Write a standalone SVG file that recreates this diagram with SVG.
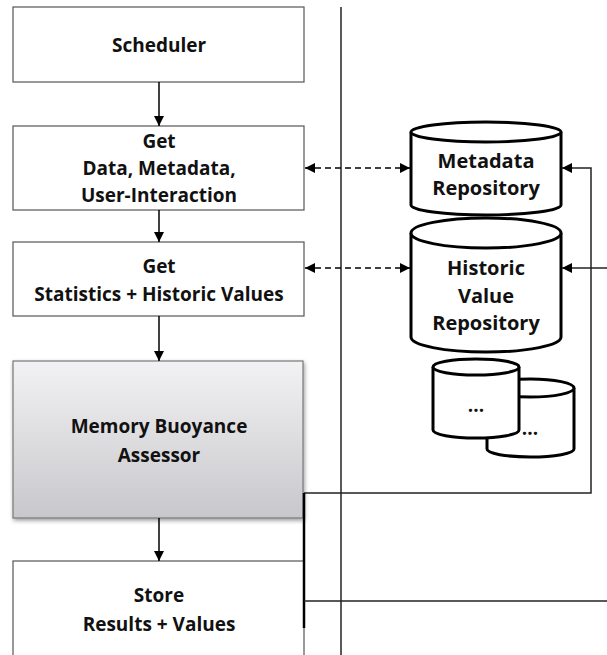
<svg xmlns="http://www.w3.org/2000/svg" width="607" height="655" viewBox="0 0 607 655">
  <defs>
    <linearGradient id="grayFill" x1="0" y1="0" x2="0" y2="1">
      <stop offset="0" stop-color="#f2f2f4"/>
      <stop offset="1" stop-color="#c8c8cc"/>
    </linearGradient>
    <filter id="shadow" x="-10%" y="-10%" width="120%" height="120%">
      <feGaussianBlur in="SourceAlpha" stdDeviation="2"/>
      <feOffset dx="1" dy="2"/>
      <feComponentTransfer><feFuncA type="linear" slope="0.4"/></feComponentTransfer>
      <feMerge><feMergeNode/><feMergeNode in="SourceGraphic"/></feMerge>
    </filter>
    <marker id="arrow" viewBox="0 0 10 10" refX="10" refY="5" markerWidth="10" markerHeight="10" markerUnits="userSpaceOnUse" orient="auto-start-reverse">
      <path d="M0,0 L10,5 L0,10 z" fill="#000"/>
    </marker>
  </defs>
  <style>
    .box { fill: #fff; stroke: #555; stroke-width: 1.2; }
    .db { fill: #fff; stroke: #000; stroke-width: 3; }
    .lbl { font-family: "Open Sans", "Noto Sans", sans-serif; font-weight: bold; font-size: 19px; fill: #111; text-anchor: middle; dominant-baseline: central; }
    .dbl { font-size: 20px; }
    .flow { stroke: #000; stroke-width: 1.5; fill: none; }
    .thin { stroke: #222; stroke-width: 1.5; fill: none; }
    .dash { stroke: #000; stroke-width: 1.5; fill: none; stroke-dasharray: 6 4; }
  </style>

  <rect width="607" height="655" fill="#fff"/>

  <!-- divider between process column and repositories -->
  <line x1="341" y1="7" x2="341" y2="655" class="thin"/>

  <g id="scheduler">
    <rect class="box" x="13" y="7" width="291" height="75"/>
    <text class="lbl" x="159" y="45">Scheduler</text>
  </g>

  <g id="get-data">
    <rect class="box" x="13" y="126" width="291" height="84"/>
    <text class="lbl" x="159" y="141">Get</text>
    <text class="lbl" x="159" y="168">Data, Metadata,</text>
    <text class="lbl" x="159" y="195">User-Interaction</text>
  </g>

  <g id="get-stats">
    <rect class="box" x="13" y="242" width="291" height="74"/>
    <text class="lbl" x="159" y="266">Get</text>
    <text class="lbl" x="159" y="294">Statistics + Historic Values</text>
  </g>

  <g id="assessor">
    <rect x="13" y="361" width="290" height="157" fill="url(#grayFill)" stroke="#777" stroke-width="1.2" filter="url(#shadow)"/>
    <text class="lbl" x="159" y="426">Memory Buoyance</text>
    <text class="lbl" x="159" y="455">Assessor</text>
  </g>

  <g id="store">
    <rect class="box" x="13" y="561" width="291" height="110"/>
    <text class="lbl" x="159" y="595">Store</text>
    <text class="lbl" x="159" y="624">Results + Values</text>
  </g>

  <g id="metadata-repo">
    <path class="db" d="M411,132 L411,205 A75,10 0 0 0 561,205 L561,132"/>
    <ellipse class="db" cx="486" cy="132" rx="75" ry="10"/>
    <text class="lbl dbl" x="486" y="160">Metadata</text>
    <text class="lbl dbl" x="486" y="187">Repository</text>
  </g>

  <g id="historic-repo">
    <path class="db" d="M411,233 L411,337 A75,15 0 0 0 561,337 L561,233"/>
    <ellipse class="db" cx="486" cy="233" rx="75" ry="15"/>
    <text class="lbl dbl" x="486" y="267">Historic</text>
    <text class="lbl dbl" x="486" y="295">Value</text>
    <text class="lbl dbl" x="486" y="322">Repository</text>
  </g>

  <g id="other-repo-2">
    <path class="db" d="M487,388 L487,449 A43.5,8 0 0 0 574,449 L574,388"/>
    <ellipse class="db" cx="530.5" cy="388" rx="43.5" ry="9"/>
    <text class="lbl" x="530" y="428">...</text>
  </g>

  <g id="other-repo-1">
    <path class="db" d="M433,367 L433,430 A43,8 0 0 0 519,430 L519,367"/>
    <ellipse class="db" cx="476" cy="367" rx="43" ry="8"/>
    <text class="lbl" x="476" y="405">...</text>
  </g>

  <g id="connectors">
    <line class="flow" x1="159" y1="82" x2="159" y2="126" marker-end="url(#arrow)"/>
    <line class="flow" x1="159" y1="210" x2="159" y2="242" marker-end="url(#arrow)"/>
    <line class="flow" x1="159" y1="316" x2="159" y2="361" marker-end="url(#arrow)"/>
    <line class="flow" x1="159" y1="518" x2="159" y2="561" marker-end="url(#arrow)"/>

    <line class="dash" x1="305" y1="168" x2="410" y2="168" marker-start="url(#arrow)" marker-end="url(#arrow)"/>
    <line class="dash" x1="305" y1="268" x2="410" y2="268" marker-start="url(#arrow)" marker-end="url(#arrow)"/>

    <!-- assessor output back to metadata repository -->
    <polyline class="thin" points="304,493 591,493 591,168 562,168" marker-end="url(#arrow)"/>
    <!-- feed into historic repository from the right -->
    <line class="thin" x1="607" y1="268" x2="562" y2="268" marker-end="url(#arrow)"/>
    <!-- link from assessor down past store -->
    <line x1="304" y1="493" x2="304" y2="628" stroke="#000" stroke-width="2.5"/>
    <line class="thin" x1="304" y1="601" x2="607" y2="601"/>
  </g>
</svg>
